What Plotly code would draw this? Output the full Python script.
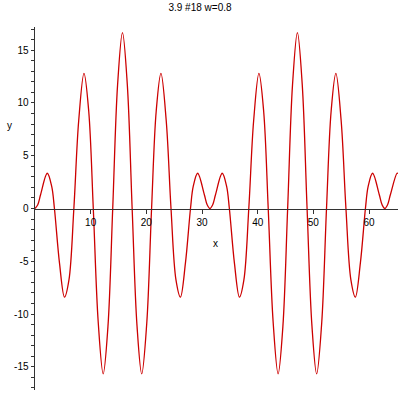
import plotly.graph_objects as go

# Curve samples (x, y)
x_vals = [
    0, 0.5, 1.0, 2.2, 3.0, 3.49, 4.4, 5.3, 6.1, 6.98, 7.85, 8.8, 9.65, 10.47,
    11.35, 12.25, 13.1, 13.96, 14.83, 15.71, 16.58, 17.45, 18.32, 19.17, 20.07,
    20.94, 21.77, 22.62, 23.57, 24.43, 25.32, 26.12, 27.02, 27.93, 28.42, 29.22,
    30.42, 30.92, 31.42,
    31.92, 32.42, 33.62, 34.42, 34.91, 35.82, 36.72, 37.52, 38.40, 39.27, 40.22,
    41.07, 41.89, 42.77, 43.67, 44.52, 45.38, 46.25, 47.13, 48.00, 48.87, 49.74,
    50.59, 51.49, 52.36, 53.19, 54.04, 54.99, 55.85, 56.74, 57.54, 58.44, 59.35,
    59.84, 60.64, 61.84, 62.34, 62.83,
    63.33, 63.83, 65.03, 65.2,
]
y_vals = [
    0, 0.36, 1.30, 3.34, 2.10, 0, -5.18, -8.4, -6.77, 0, 8.31, 12.8, 9.22, 0,
    -10.73, -15.67, -11.22, 0, 11.69, 16.67, 11.74, 0, -11.1, -15.67, -10.9,
    0, 9.22, 12.8, 8.31, 0, -6.77, -8.4, -5.18, 0, 2.10, 3.34,
    1.30, 0.36, 0,
    0.36, 1.30, 3.34, 2.10, 0, -5.18, -8.4, -6.77, 0, 8.31, 12.8,
    9.22, 0, -10.73, -15.67, -11.22, 0, 11.69, 16.67, 11.74, 0, -11.1,
    -15.67, -10.9, 0, 9.22, 12.8, 8.31, 0, -6.77, -8.4, -5.18, 0,
    2.10, 3.34, 1.30, 0.36, 0,
    0.36, 1.30, 3.34, 3.31,
]

x_ticks = [10, 20, 30, 40, 50, 60]
x_tick_text = ["10", "20", "30", "40", "50", "60"]
y_ticks = [-15, -10, -5, 0, 5, 10, 15]
y_tick_text = ["-15", "-10", "-5", "0", "5", "10", "15"]

title_text = "3.9 #18 w=0.8"
x_label = "x"
y_label = "y"

FONT = "Liberation Sans, Arial, sans-serif"
AXIS_COLOR = "#333333"

fig = go.Figure()
fig.add_trace(go.Scatter(
    x=x_vals, y=y_vals, mode="lines",
    line=dict(color="#cc0000", width=1.3, shape="spline", smoothing=1.0),
    hoverinfo="skip", showlegend=False,
))

fig.update_layout(
    width=400, height=400,
    margin=dict(l=35, r=2, t=27, b=10, autoexpand=False),
    paper_bgcolor="white", plot_bgcolor="white",
    font=dict(family=FONT, size=10, color="black"),
    title=dict(text=title_text, x=0.5, xref="container", xanchor="center",
               y=1 - 7 / 400, yref="container", yanchor="middle",
               font=dict(family=FONT, size=10, color="black")),
    showlegend=False,
    hovermode=False,
    xaxis=dict(
        range=[0, 65.2], anchor="free", position=0.5, automargin=False,
        showgrid=False, zeroline=False,
        showline=True, linecolor=AXIS_COLOR, linewidth=1.5,
        ticks="outside", ticklen=4, tickcolor=AXIS_COLOR, tickwidth=1,
        tickvals=x_ticks, ticktext=x_tick_text,
        tickfont=dict(family=FONT, size=10, color="black"),
    ),
    yaxis=dict(
        range=[-17.2, 17.2], automargin=False,
        showgrid=False, zeroline=False,
        showline=True, linecolor=AXIS_COLOR, linewidth=1.5,
        ticks="outside", ticklen=3, tickcolor=AXIS_COLOR, tickwidth=1,
        tickvals=y_ticks, ticktext=y_tick_text,
        tickfont=dict(family=FONT, size=10, color="black"),
        minor=dict(dtick=1, ticks="outside", ticklen=2.5, tickcolor=AXIS_COLOR),
    ),
    annotations=[
        dict(text=x_label, x=(215 - 35) / 363, y=(390 - 243) / 363,
             xref="paper", yref="paper", showarrow=False,
             font=dict(family=FONT, size=10, color="black")),
        dict(text=y_label, x=(5 - 35) / 363, y=(390 - 118) / 363,
             xref="paper", yref="paper", showarrow=False,
             font=dict(family=FONT, size=10, color="black")),
    ],
)

fig.write_html("out.html",
               config={"displayModeBar": False, "staticPlot": True},
               post_script="document.body.style.margin='0';document.body.style.overflow='hidden';")
